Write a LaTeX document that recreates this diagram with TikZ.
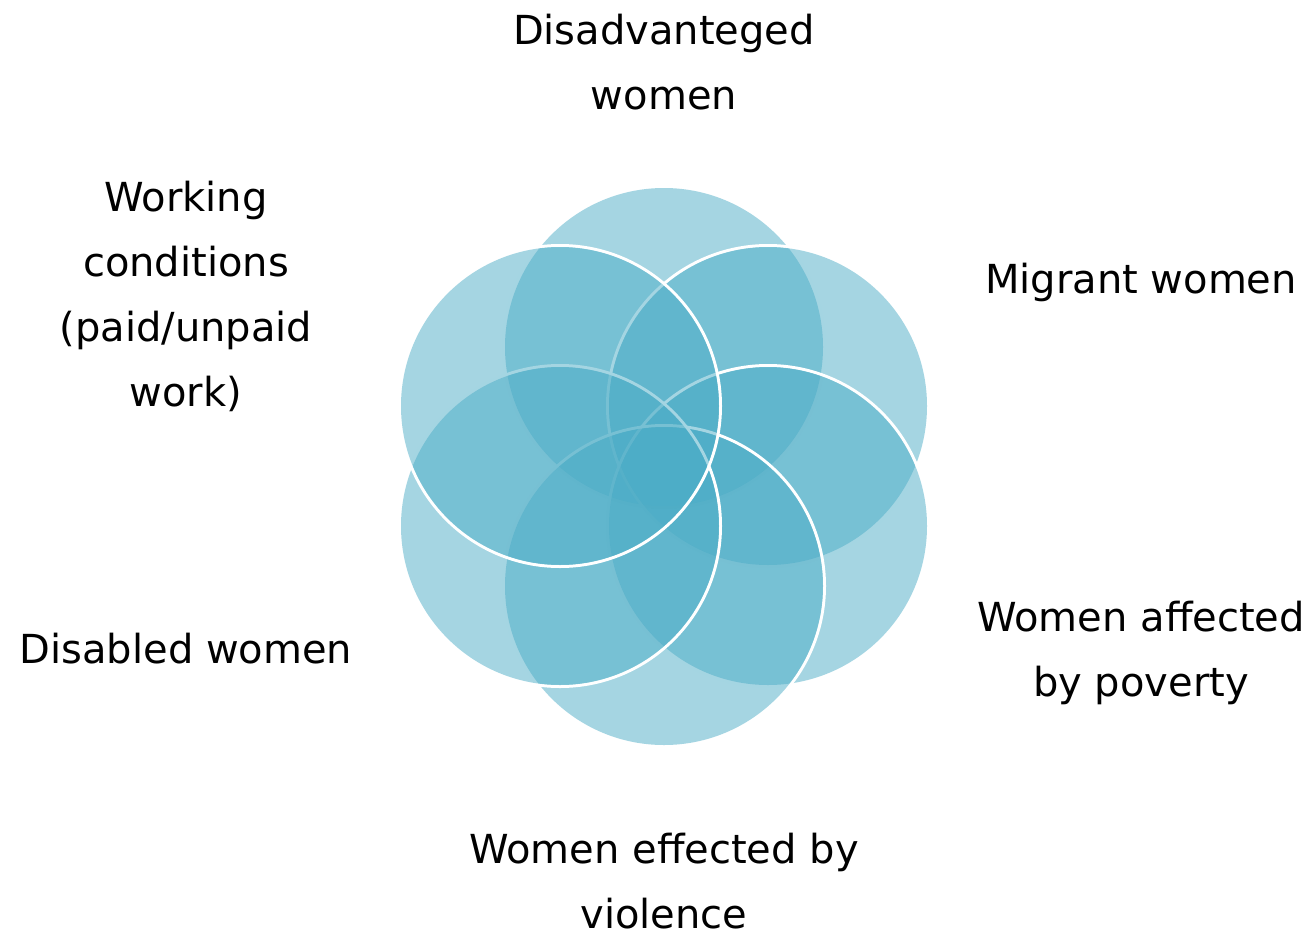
\documentclass[tikz,border=0pt]{standalone}
\usepackage{fontspec}
\setmainfont{DejaVu Sans}
\definecolor{venn}{RGB}{75,172,198}
\begin{document}
\begin{tikzpicture}[x=1pt,y=-1pt,
  ring/.style={draw=white,line width=6pt},
  disc/.style={fill=venn,fill opacity=0.5},
  lbl/.style={align=center,inner sep=0pt,font=\fontsize{40}{65}\selectfont}]
\useasboundingbox (0,0) rectangle (1309,932);
% circles: top, upper right, lower right, bottom, lower left, upper left
\foreach \cx/\cy in {664/347,768/406,768/526,664/586,560/526,560/406}{
  \begin{scope}[even odd rule]
    \clip (0,0) rectangle (1309,932) (\cx,\cy) circle[radius=159];
    \path[ring] (\cx,\cy) circle[radius=159];
  \end{scope}
  \path[disc] (\cx,\cy) circle[radius=159];
}
\node[lbl] (ltop) at (664,63.5) {\strut Disadvanteged\\\strut women};
\node[lbl] (lur) at (1141,280) {\strut Migrant women};
\node[lbl] (llr) at (1141,651) {\strut Women affected\\\strut by poverty};
\node[lbl] (lbot) at (664,882.5) {\strut Women effected by\\\strut violence};
\node[lbl] (lll) at (186,650) {\strut Disabled women};
\node[lbl] (lul) at (186,295.5) {\strut Working\\\strut conditions\\\strut (paid/unpaid\\\strut work)};
\end{tikzpicture}
\end{document}
